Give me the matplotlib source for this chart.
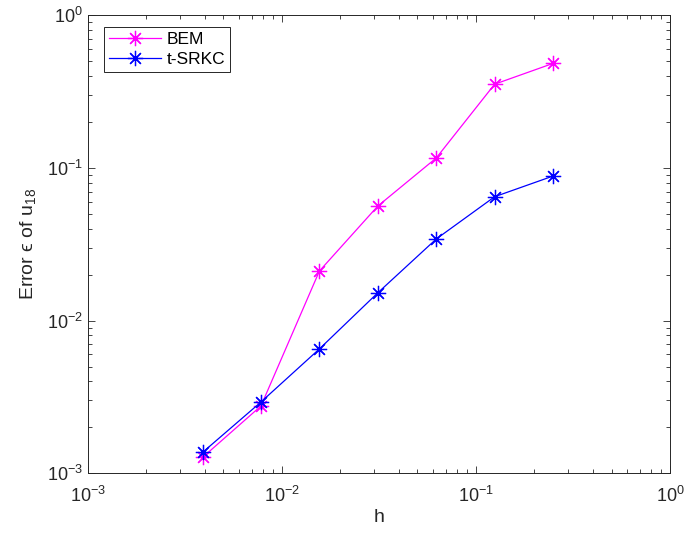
import matplotlib
matplotlib.use("Agg")
import matplotlib.pyplot as plt
from matplotlib.ticker import LogLocator, NullFormatter

plt.rcParams['font.family'] = ['Liberation Sans', 'DejaVu Sans']
plt.rcParams['mathtext.fontset'] = 'custom'
plt.rcParams['mathtext.rm'] = 'Liberation Sans'
plt.rcParams['mathtext.it'] = 'Liberation Sans:italic'
plt.rcParams['mathtext.bf'] = 'Liberation Sans:bold'

h = [2**-8, 2**-7, 2**-6, 2**-5, 2**-4, 2**-3, 2**-2]
bem = [0.00127, 0.00276, 0.0211, 0.0562, 0.116, 0.353, 0.483]
tsrkc = [0.00137, 0.00293, 0.00652, 0.0152, 0.0342, 0.0647, 0.0884]
labels = ['BEM', 't-SRKC']

fig = plt.figure(figsize=(6.85, 5.4), dpi=100)
ax = fig.add_axes([0.128, 0.1235, 0.850, 0.8485])

ast = (8, 2, 0)
ax.loglog(h, bem, '-', marker=ast, color='#ff00ff', lw=0.9, ms=11, mew=0.9, label=labels[0])
ax.loglog(h, tsrkc, '-', marker=ast, color='#0000ff', lw=0.9, ms=11, mew=0.9, label=labels[1])

ax.set_xlim(1e-3, 1)
ax.set_ylim(1e-3, 1)
ax.xaxis.set_major_locator(LogLocator(base=10, numticks=10))
ax.yaxis.set_major_locator(LogLocator(base=10, numticks=10))
ax.xaxis.set_minor_locator(LogLocator(base=10, subs=range(2, 10), numticks=20))
ax.yaxis.set_minor_locator(LogLocator(base=10, subs=range(2, 10), numticks=20))
ax.xaxis.set_minor_formatter(NullFormatter())
ax.yaxis.set_minor_formatter(NullFormatter())

tc = '#262626'
ax.tick_params(which='both', direction='in', top=True, right=True, color=tc, labelcolor=tc, labelsize=13)
ax.tick_params(which='major', length=5, width=0.6)
ax.tick_params(which='minor', length=3, width=0.6)
ax.tick_params(axis='x', pad=9)
for s in ax.spines.values():
    s.set_color(tc)
    s.set_linewidth(0.7)

ax.set_xlabel('h', fontsize=14, color=tc, labelpad=2)
ax.set_ylabel('Error \u03f5 of u$_{18}$', fontsize=14, color=tc, labelpad=6)

leg = ax.legend(loc='upper left', bbox_to_anchor=(0.028, 0.974), borderaxespad=0,
                fontsize=12.5, frameon=True, fancybox=False, edgecolor=tc, framealpha=1,
                handlelength=3.0, borderpad=0.3, labelspacing=0.25, handletextpad=0.3)
leg.get_frame().set_linewidth(0.7)

fig.savefig('out.png', dpi=100, facecolor='white')
